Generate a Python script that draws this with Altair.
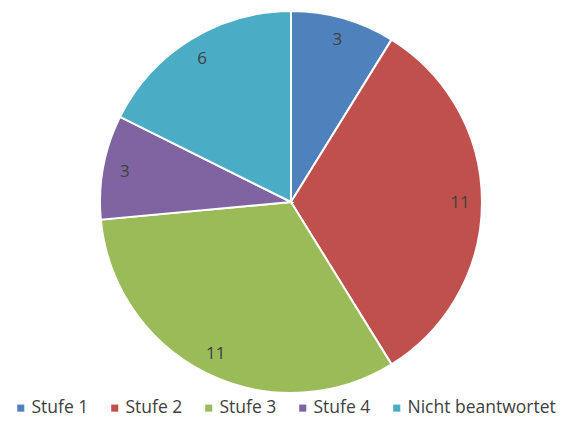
import altair as alt
import pandas as pd

categories = ["Stufe 1", "Stufe 2", "Stufe 3", "Stufe 4", "Nicht beantwortet"]
values = [3, 11, 11, 3, 6]
colors = ["#4F81BD", "#C0504D", "#9BBB59", "#8064A2", "#4BACC6"]

df = pd.DataFrame({"cat": categories, "val": values, "ord": list(range(len(values)))})

cx, cy = 283, 194

base = alt.Chart(df).encode(
    theta=alt.Theta("val:Q", stack=True),
    order=alt.Order("ord:Q"),
)

color = alt.Color(
    "cat:N",
    scale=alt.Scale(domain=categories, range=colors),
    sort=categories,
    legend=alt.Legend(
        title=None,
        orient="none",
        legendX=4,
        legendY=391,
        direction="horizontal",
        columns=5,
        symbolType="square",
        symbolSize=50,
        symbolStrokeWidth=0,
        labelFont="Open Sans",
        labelFontSize=17.5,
        labelColor="#404040",
        columnPadding=17,
        labelOffset=2,
    ),
)

pie = base.mark_arc(outerRadius=191, stroke="white", strokeWidth=2).encode(
    color=color,
    x=alt.value(cx),
    y=alt.value(cy),
)

labels = base.mark_text(radius=169, font="Open Sans", fontSize=17, color="#404040").encode(
    text="val:Q",
    x=alt.value(cx),
    y=alt.value(cy + 1),
)

chart = (pie + labels).properties(
    width=559, height=409, padding=0, autosize=alt.AutoSizeParams(type="none")
).configure_view(stroke=None)

chart.save("out.html", embed_options={"renderer": "svg", "actions": False})
